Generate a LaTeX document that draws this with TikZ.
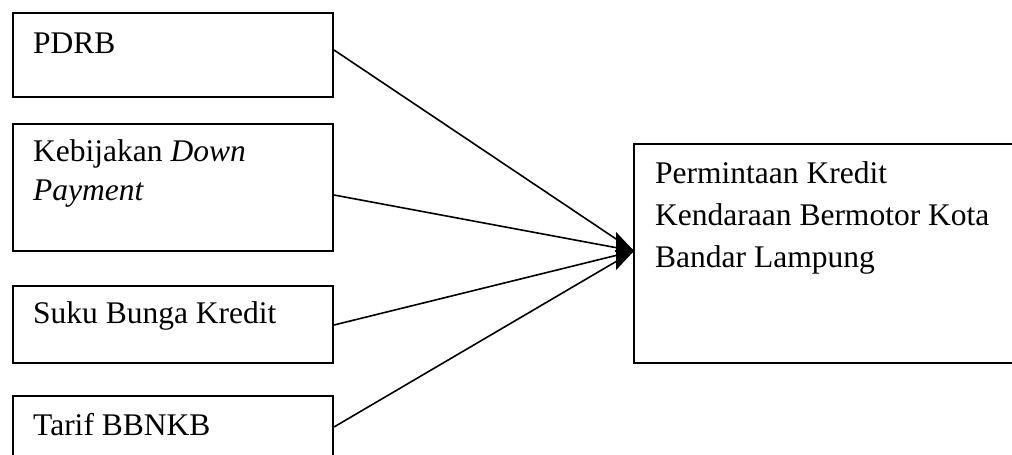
\documentclass[tikz,border=0pt]{standalone}
\usepackage{fontspec}
\setmainfont{Liberation Serif}
\usetikzlibrary{arrows.meta,calc}
\begin{document}
\begin{tikzpicture}[x=1pt,y=-1pt,
  box/.style={draw=black, line width=2pt, fill=none, rectangle, inner sep=0pt, anchor=north west},
  lbl/.style={anchor=base west, inner sep=0pt, font=\fontsize{31.5}{41}\selectfont},
  link/.style={draw=black, line width=1.6pt}]
\useasboundingbox (0,0) rectangle (1012,455);
\clip (0,0) rectangle (1012,455);
% boxes
\node[box, minimum width=320pt, minimum height=84pt] (pdrb) at (12,12) {};
\node[box, minimum width=320pt, minimum height=127pt] (dp) at (12,123) {};
\node[box, minimum width=320pt, minimum height=77pt] (sbk) at (12,285) {};
\node[box, minimum width=320pt, minimum height=90pt] (bbnkb) at (12,395) {};
\node[box, minimum width=420pt, minimum height=219pt] (pk) at (633,143) {};
% texts
\node[lbl] (t1) at (33,53) {PDRB};
\node[lbl] (t2a) at (33,161) {Kebijakan \textit{Down}};
\node[lbl] (t2b) at (33,200) {\textit{Payment}};
\node[lbl] (t3) at (33,323) {Suku Bunga Kredit};
\node[lbl] (t4) at (33,435) {Tarif BBNKB};
\node[lbl] (r1) at (655,183) {Permintaan Kredit};
\node[lbl] (r2) at (655,225) {Kendaraan Bermotor Kota};
\node[lbl] (r3) at (655,267) {Bandar Lampung};
% connectors
\coordinate (tip) at ($(pk.north west)+(1,108)$);
\coordinate (s1) at ($(pdrb.north east)+(0,38)$);
\coordinate (s2) at ($(dp.north east)+(0,72)$);
\coordinate (s3) at ($(sbk.north east)+(0,40)$);
\coordinate (s4) at ($(bbnkb.north east)+(0,32)$);
\draw[link] (s1) -- (tip);
\draw[link] (s2) -- (tip);
\draw[link] (s3) -- (tip);
\draw[link] (s4) -- (tip);
\draw[link, -{Triangle[length=18pt,width=38pt]}] ($(tip)+(-19,0)$) -- (tip);
\end{tikzpicture}
\end{document}
